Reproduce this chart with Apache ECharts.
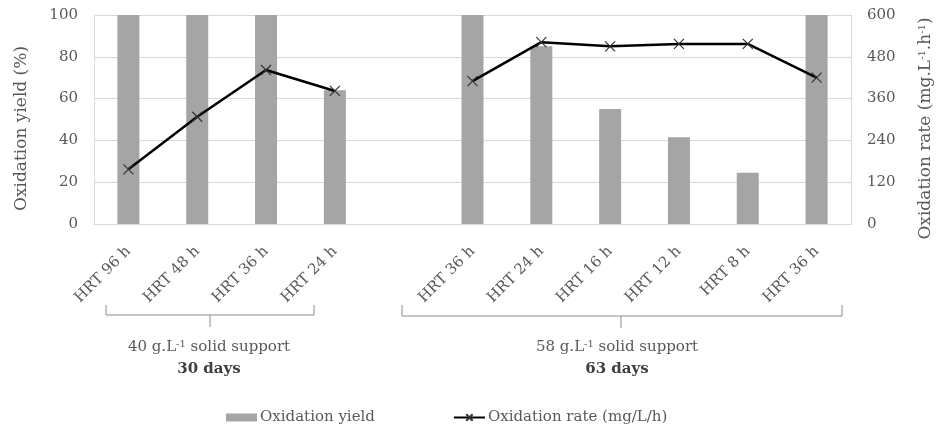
<!DOCTYPE html>
<html>
<head>
<meta charset="utf-8">
<script src="https://cdn.jsdelivr.net/npm/echarts@6/dist/echarts.min.js"></script>
<style>html,body{margin:0;padding:0;background:#fff;}#c{width:942px;height:429px;}</style>
</head>
<body>
<div id="c"></div>
<script>
const categories = ['HRT 96 h','HRT 48 h','HRT 36 h','HRT 24 h','','HRT 36 h','HRT 24 h','HRT 16 h','HRT 12 h','HRT 8 h','HRT 36 h'];
const oxidationYield = [100, 100, 100, 64, null, 100, 85, 55, 41.5, 24.5, 100];
const oxidationRate = [157, 308, 442, 382, null, 410, 522, 510, 517, 517, 420];
const yieldTicks = {min: 0, max: 100, interval: 20};
const rateTicks = {min: 0, max: 600, interval: 120};
const groupLabels = [
  {text: '40 g.L{sup|-1} solid support', days: '30 days'},
  {text: '58 g.L{sup|-1} solid support', days: '63 days'}
];

const FONT = 'DejaVu Serif';
const TXT = '#595959';
const GRID = '#d9d9d9';
const chart = echarts.init(document.getElementById('c'), null, {renderer: 'canvas'});

const sup = {fontSize: 10, verticalAlign: 'top', lineHeight: 10, fontFamily: FONT, color: TXT};

chart.setOption({
  animation: false,
  grid: {left: 94, right: 88, top: 15, bottom: 205},
  legend: {
    left: 226, top: 410, padding: 0,
    itemWidth: 31, itemHeight: 8, itemGap: 78,
    textStyle: {fontFamily: FONT, fontSize: 15, color: TXT, padding: [0, 0, 0, -2]},
    data: [
      {name: 'Oxidation yield', icon: 'rect'},
      {name: 'Oxidation rate (mg/L/h)'}
    ]
  },
  xAxis: {
    type: 'category',
    data: categories,
    axisTick: {show: false},
    axisLine: {lineStyle: {color: GRID, width: 1}},
    axisLabel: {interval: 0, rotate: 45, margin: 25, padding: [11, 0, 0, 0], fontFamily: FONT, fontSize: 15, color: TXT}
  },
  yAxis: [
    {
      type: 'value', min: yieldTicks.min, max: yieldTicks.max, interval: yieldTicks.interval,
      name: 'Oxidation yield (%)', nameLocation: 'middle', nameRotate: 90, nameGap: 64,
      nameTextStyle: {fontFamily: FONT, fontSize: 17, color: TXT, padding: [0, 18, 0, 0]},
      axisLine: {show: true, lineStyle: {color: GRID}},
      axisTick: {show: false},
      splitLine: {lineStyle: {color: GRID, width: 1}},
      axisLabel: {margin: 16, fontFamily: FONT, fontSize: 15, color: TXT}
    },
    {
      type: 'value', position: 'right', min: rateTicks.min, max: rateTicks.max, interval: rateTicks.interval,
      name: 'Oxidation rate (mg.L{sup|-1}.h{sup|-1})', nameLocation: 'middle', nameRotate: 90, nameGap: 66,
      nameTextStyle: {fontFamily: FONT, fontSize: 17, color: TXT, padding: [0, 18, 0, 0], rich: {sup: sup}},
      axisLine: {show: true, lineStyle: {color: GRID}},
      axisTick: {show: false},
      splitLine: {show: false},
      axisLabel: {margin: 16, fontFamily: FONT, fontSize: 15, color: TXT}
    }
  ],
  series: [
    {
      name: 'Oxidation yield', type: 'bar', yAxisIndex: 0, data: oxidationYield,
      barWidth: 22, itemStyle: {color: '#a5a5a5'}, z: 2
    },
    {
      name: 'Oxidation rate (mg/L/h)', type: 'line', yAxisIndex: 1, data: oxidationRate,
      connectNulls: false,
      lineStyle: {color: '#000', width: 2.5},
      symbol: 'path://M0,0L10,10M10,0L0,10', symbolSize: 10,
      itemStyle: {color: '#000', borderColor: '#333', borderWidth: 1.2},
      z: 3
    }
  ],
  graphic: [
    {type: 'polyline', shape: {points: [[106, 305], [106, 315], [314, 315], [314, 305]]}, style: {stroke: '#8c8c8c', lineWidth: 1, fill: null}},
    {type: 'line', shape: {x1: 210, y1: 315, x2: 210, y2: 327}, style: {stroke: '#8c8c8c', lineWidth: 1}},
    {type: 'polyline', shape: {points: [[402, 305], [402, 316], [842, 316], [842, 305]]}, style: {stroke: '#8c8c8c', lineWidth: 1, fill: null}},
    {type: 'line', shape: {x1: 621, y1: 316, x2: 621, y2: 328}, style: {stroke: '#8c8c8c', lineWidth: 1}},
    {type: 'text', x: 209, y: 347, style: {text: groupLabels[0].text, align: 'center', verticalAlign: 'middle', fontFamily: FONT, fontSize: 15, fill: TXT, rich: {sup: sup}}},
    {type: 'text', x: 209, y: 369, style: {text: groupLabels[0].days, align: 'center', verticalAlign: 'middle', fontFamily: FONT, fontSize: 15, fontWeight: 'bold', fill: '#404040'}},
    {type: 'text', x: 617, y: 347, style: {text: groupLabels[1].text, align: 'center', verticalAlign: 'middle', fontFamily: FONT, fontSize: 15, fill: TXT, rich: {sup: sup}}},
    {type: 'text', x: 617, y: 369, style: {text: groupLabels[1].days, align: 'center', verticalAlign: 'middle', fontFamily: FONT, fontSize: 15, fontWeight: 'bold', fill: '#404040'}}
  ]
});
</script>
</body>
</html>
